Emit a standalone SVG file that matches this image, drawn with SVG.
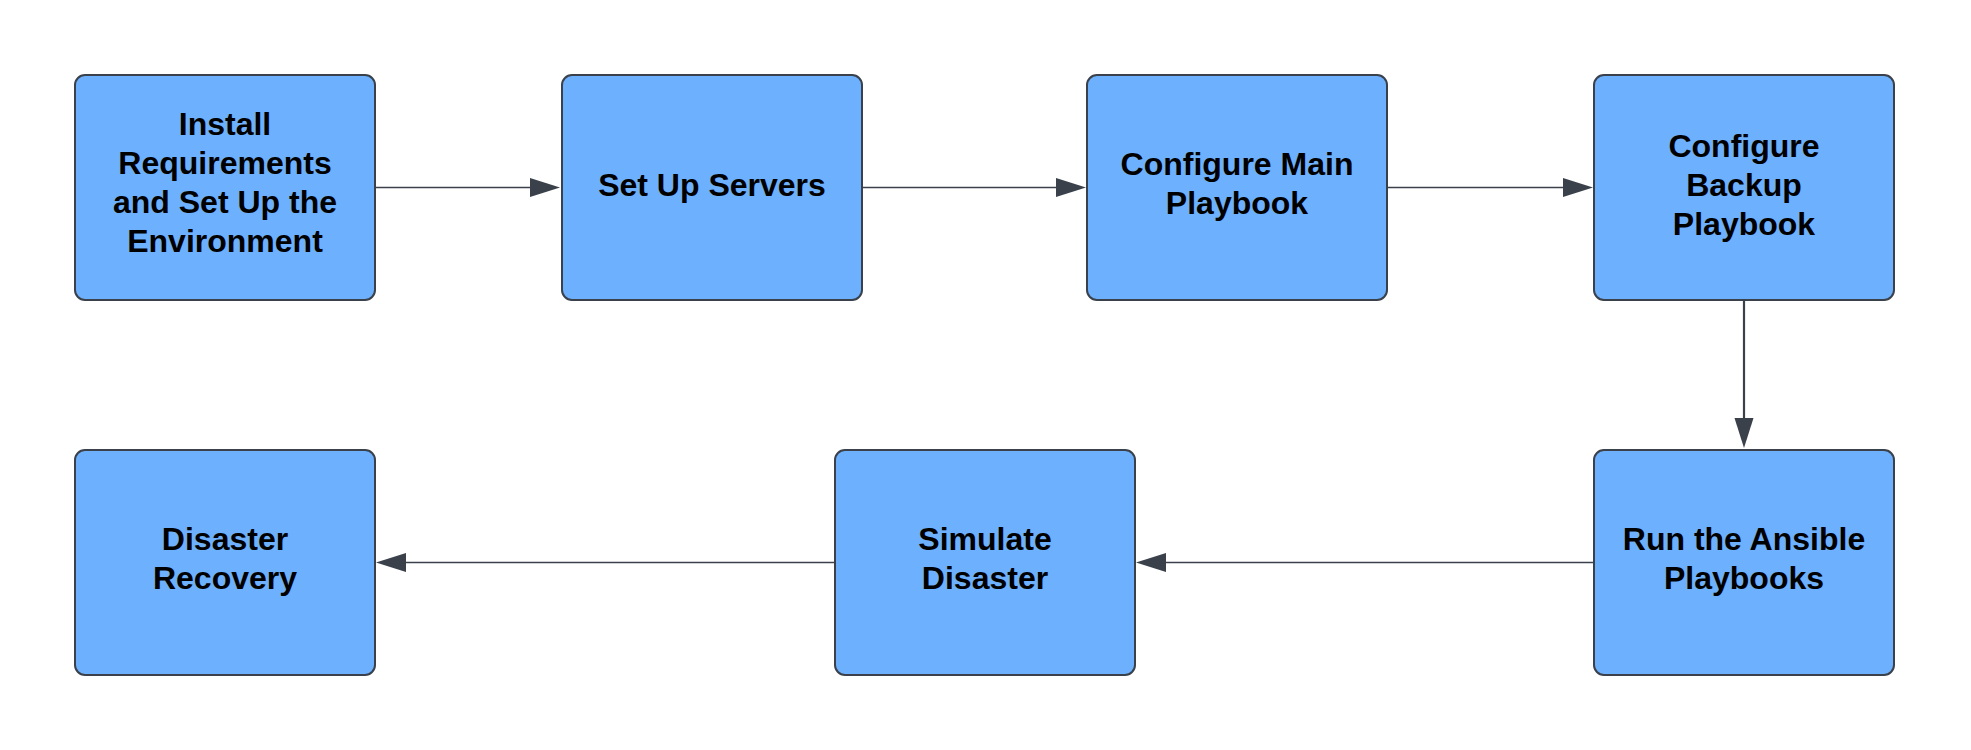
<svg xmlns="http://www.w3.org/2000/svg" width="1971" height="750" viewBox="0 0 1971 750">
<style>
.box{fill:#6db0fe;stroke:#3a414b;stroke-width:2}
.lbl{font-family:"Liberation Sans",Arial,sans-serif;font-weight:bold;font-size:32px;fill:#000;text-anchor:middle}
.conn{stroke:#3a414b;stroke-width:1.3;fill:none}
.thick{stroke-width:2.2}
.head{fill:#3a414b}
</style>
<rect width="1971" height="750" fill="#fff"/>
<g id="connectors">
<line class="conn" x1="376" y1="187.5" x2="532" y2="187.5"/>
<polygon class="head" points="530,178 560,187.5 530,197"/>
<line class="conn" x1="863" y1="187.5" x2="1058" y2="187.5"/>
<polygon class="head" points="1056,178 1086,187.5 1056,197"/>
<line class="conn" x1="1388" y1="187.5" x2="1564" y2="187.5"/>
<polygon class="head" points="1563,178 1593,187.5 1563,197"/>
<line class="conn thick" x1="1744" y1="301" x2="1744" y2="420"/>
<polygon class="head" points="1734.5,418 1744,448 1753.5,418"/>
<line class="conn" x1="1593" y1="562.5" x2="1164" y2="562.5"/>
<polygon class="head" points="1166,553 1136,562.5 1166,572"/>
<line class="conn" x1="834" y1="562.5" x2="404" y2="562.5"/>
<polygon class="head" points="406,553 376,562.5 406,572"/>
</g>
<g id="n1"><rect class="box" x="75" y="75" width="300" height="225" rx="10"/>
<text class="lbl" x="225" y="135">Install</text>
<text class="lbl" x="225" y="174">Requirements</text>
<text class="lbl" x="225" y="213">and Set Up the</text>
<text class="lbl" x="225" y="252">Environment</text></g>
<g id="n2"><rect class="box" x="562" y="75" width="300" height="225" rx="10"/>
<text class="lbl" x="712" y="196">Set Up Servers</text></g>
<g id="n3"><rect class="box" x="1087" y="75" width="300" height="225" rx="10"/>
<text class="lbl" x="1237" y="175">Configure Main</text>
<text class="lbl" x="1237" y="214">Playbook</text></g>
<g id="n4"><rect class="box" x="1594" y="75" width="300" height="225" rx="10"/>
<text class="lbl" x="1744" y="157">Configure</text>
<text class="lbl" x="1744" y="196">Backup</text>
<text class="lbl" x="1744" y="235">Playbook</text></g>
<g id="n5"><rect class="box" x="1594" y="450" width="300" height="225" rx="10"/>
<text class="lbl" x="1744" y="550">Run the Ansible</text>
<text class="lbl" x="1744" y="589">Playbooks</text></g>
<g id="n6"><rect class="box" x="835" y="450" width="300" height="225" rx="10"/>
<text class="lbl" x="985" y="550">Simulate</text>
<text class="lbl" x="985" y="589">Disaster</text></g>
<g id="n7"><rect class="box" x="75" y="450" width="300" height="225" rx="10"/>
<text class="lbl" x="225" y="550">Disaster</text>
<text class="lbl" x="225" y="589">Recovery</text></g>
</svg>
